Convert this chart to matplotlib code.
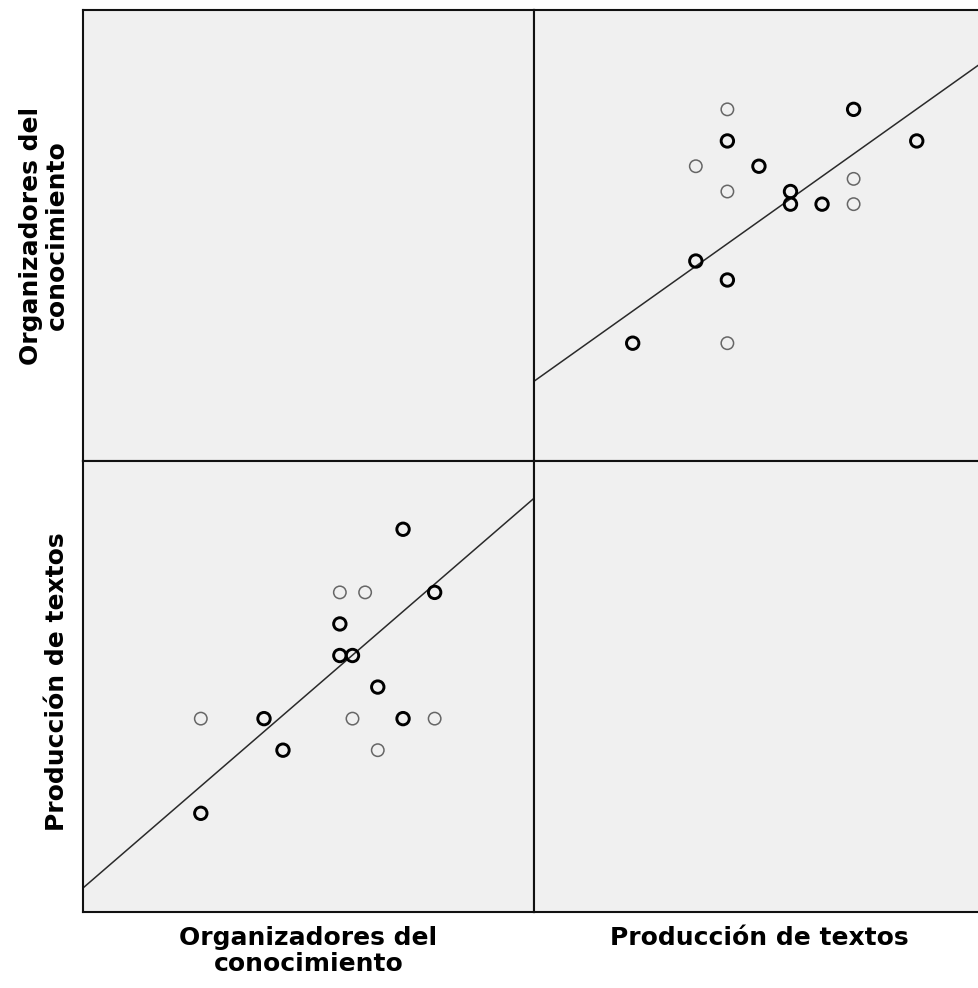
import numpy as np
import matplotlib
matplotlib.use("Agg")
import matplotlib.pyplot as plt

# puntajes por estudiante; casos = número de estudiantes en cada punto
organizadores = [0, 5, 6.5, 0, 11, 13, 11, 11, 12, 14, 12, 16, 18.5, 14, 16, 18.5]
produccion = [4, 4, 3, 1, 8, 8, 7, 6, 6, 5, 4, 4, 4, 3, 10, 8]
casos = [1, 2, 6, 8, 1, 1, 15, 15, 15, 3, 1, 2, 1, 1, 2, 6]

etiquetas = ["Organizadores del\nconocimiento", "Producción de textos"]

O = np.array(organizadores, float)
P = np.array(produccion, float)
w = np.array(casos, float)
bold = w > 1

fig = plt.figure(figsize=(9.79, 9.88), dpi=100)
W = 451 / 979
H = 451 / 988
L0 = 83 / 979
B0 = 76 / 988
pos = {(0, 0): [L0, B0 + H, W, H], (0, 1): [L0 + W, B0 + H, W, H],
       (1, 0): [L0, B0, W, H], (1, 1): [L0 + W, B0, W, H]}
lims = [(-9.32, 26.36), (-2.127, 12.163)]
vals = [O, P]

for (r, c), p in pos.items():
    ax = fig.add_axes(p)
    ax.set_facecolor("#f0f0f0")
    ax.set_xticks([])
    ax.set_yticks([])
    for s in ax.spines.values():
        s.set_linewidth(1.5)
        s.set_color("#111111")
    ax.set_xlim(lims[c])
    ax.set_ylim(lims[r])
    if r == c:
        continue
    x = vals[c]
    y = vals[r]
    # recta de regresión ponderada por casos
    mx = np.average(x, weights=w)
    my = np.average(y, weights=w)
    b = np.sum(w * (x - mx) * (y - my)) / np.sum(w * (x - mx) ** 2)
    xx = np.array(lims[c])
    ax.plot(xx, my + b * (xx - mx), color="#2a2a2a", lw=1.1, zorder=2)
    ax.scatter(x[~bold], y[~bold], s=80, facecolors="none",
               edgecolors="#666666", linewidths=1.1, zorder=3)
    ax.scatter(x[bold], y[bold], s=80, facecolors="none",
               edgecolors="black", linewidths=2.1, zorder=4)

fs = 18
fig.text(L0 + W / 2, 1 - 926 / 988, etiquetas[0], ha="center", va="top",
         fontsize=fs, fontweight="bold", linespacing=1.1)
fig.text(L0 + 1.5 * W, 1 - 926 / 988, etiquetas[1], ha="center", va="top",
         fontsize=fs, fontweight="bold")
fig.text(69 / 979, B0 + 1.5 * H, etiquetas[0], ha="right", va="center",
         rotation=90, fontsize=fs, fontweight="bold", linespacing=1.1,
         multialignment="center")
fig.text(69 / 979, B0 + 0.5 * H + 5 / 988, etiquetas[1], ha="right",
         va="center", rotation=90, fontsize=fs, fontweight="bold")

fig.savefig("out.png", dpi=100)
